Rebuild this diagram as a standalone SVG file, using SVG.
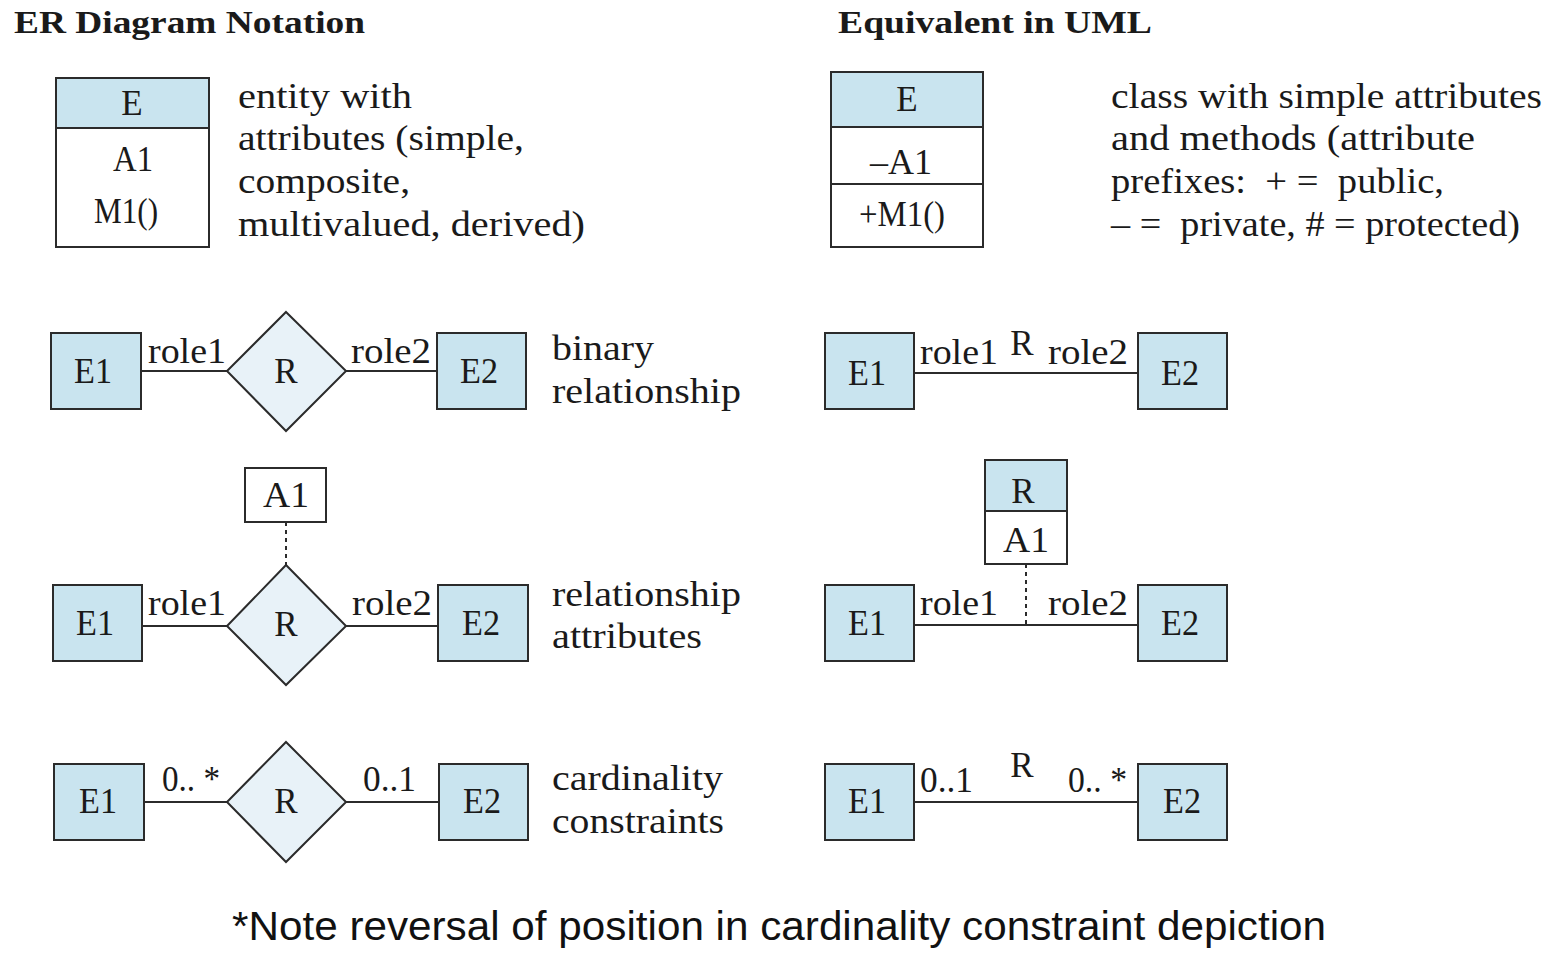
<svg xmlns="http://www.w3.org/2000/svg" width="1555" height="965" viewBox="0 0 1555 965">
<style>
.bg{fill:#ffffff}
.ent{fill:#c9e4ef;stroke:#2b2b2b;stroke-width:2}
.wbox{fill:#ffffff;stroke:#2b2b2b;stroke-width:2}
.rel{fill:#e8f2f8;stroke:#2b2b2b;stroke-width:2}
.ln{stroke:#2b2b2b;stroke-width:2;fill:none}
.dot{stroke:#2b2b2b;stroke-width:2;fill:none;stroke-dasharray:4 4}
text{font-family:"Liberation Serif","DejaVu Serif",serif;fill:#1a1a1a}
.h{font-weight:bold;font-size:32px}
.t{font-size:35px}
.d{font-size:36px}
.c{text-anchor:middle}
.note{font-family:"Liberation Sans",Arial,sans-serif;font-size:41px;fill:#111}
</style>
<rect class="bg" x="0" y="0" width="1555" height="965"/>
<text class="h" x="14" y="33" textLength="351" lengthAdjust="spacingAndGlyphs">ER Diagram Notation</text>
<text class="h" x="838" y="33" textLength="314" lengthAdjust="spacingAndGlyphs">Equivalent in UML</text>

<g id="connectors">
<line class="ln" x1="141" y1="371" x2="227" y2="371"/>
<line class="ln" x1="346" y1="371" x2="437" y2="371"/>
<line class="ln" x1="914" y1="373" x2="1138" y2="373"/>
<line class="dot" x1="286" y1="522" x2="286" y2="565"/>
<line class="ln" x1="142" y1="626" x2="227" y2="626"/>
<line class="ln" x1="346" y1="626" x2="438" y2="626"/>
<line class="ln" x1="914" y1="625" x2="1138" y2="625"/>
<line class="dot" x1="1026" y1="564" x2="1026" y2="625"/>
<line class="ln" x1="144" y1="802" x2="227" y2="802"/>
<line class="ln" x1="346" y1="802" x2="439" y2="802"/>
<line class="ln" x1="914" y1="802" x2="1138" y2="802"/>
</g>

<g id="er-entity">
<rect class="wbox" x="56" y="78" width="153" height="169"/>
<rect class="ent" x="56" y="78" width="153" height="50"/>
<text class="t c" x="132" y="115">E</text>
<text class="t c" x="133" y="171" textLength="40" lengthAdjust="spacingAndGlyphs">A1</text>
<text class="t c" x="126" y="223" textLength="64" lengthAdjust="spacingAndGlyphs">M1()</text>
</g>
<g id="er-entity-desc">
<text class="d" x="238" y="108" textLength="174" lengthAdjust="spacingAndGlyphs">entity with</text>
<text class="d" x="238" y="150" textLength="286" lengthAdjust="spacingAndGlyphs">attributes (simple,</text>
<text class="d" x="238" y="193" textLength="172" lengthAdjust="spacingAndGlyphs">composite,</text>
<text class="d" x="238" y="236" textLength="347" lengthAdjust="spacingAndGlyphs">multivalued, derived)</text>
</g>

<g id="uml-class">
<rect class="wbox" x="831" y="72" width="152" height="175"/>
<rect class="ent" x="831" y="72" width="152" height="55"/>
<line class="ln" x1="831" y1="184" x2="983" y2="184"/>
<text class="t c" x="907" y="111">E</text>
<text class="t c" x="901" y="174" textLength="62" lengthAdjust="spacingAndGlyphs">–A1</text>
<text class="t c" x="902" y="226" textLength="86" lengthAdjust="spacingAndGlyphs">+M1()</text>
</g>
<g id="uml-class-desc">
<text class="d" x="1111" y="108" textLength="431" lengthAdjust="spacingAndGlyphs">class with simple attributes</text>
<text class="d" x="1111" y="150" textLength="364" lengthAdjust="spacingAndGlyphs">and methods (attribute</text>
<text class="d" x="1111" y="193" xml:space="preserve" textLength="333" lengthAdjust="spacingAndGlyphs">prefixes:  + =  public,</text>
<text class="d" x="1111" y="236" xml:space="preserve" textLength="409" lengthAdjust="spacingAndGlyphs">– =  private, # = protected)</text>
</g>

<!-- row 2 ER -->
<g id="er2-e1"><rect class="ent" x="51" y="333" width="90" height="76"/><text class="t c" x="93" y="383" textLength="38" lengthAdjust="spacingAndGlyphs">E1</text></g>
<g id="er2-r"><polygon class="rel" points="286,312 346,371 286,431 227,371"/><text class="t c" x="286" y="383">R</text></g>
<g id="er2-e2"><rect class="ent" x="437" y="333" width="89" height="76"/><text class="t c" x="479" y="383" textLength="38" lengthAdjust="spacingAndGlyphs">E2</text></g>
<text class="t" x="148" y="363" textLength="78" lengthAdjust="spacingAndGlyphs">role1</text>
<text class="t" x="351" y="363" textLength="80" lengthAdjust="spacingAndGlyphs">role2</text>
<text class="d" x="552" y="360" textLength="102" lengthAdjust="spacingAndGlyphs">binary</text>
<text class="d" x="552" y="403" textLength="189" lengthAdjust="spacingAndGlyphs">relationship</text>

<!-- row 2 UML -->
<g id="uml2-e1"><rect class="ent" x="825" y="333" width="89" height="76"/><text class="t c" x="867" y="385" textLength="38" lengthAdjust="spacingAndGlyphs">E1</text></g>
<g id="uml2-e2"><rect class="ent" x="1138" y="333" width="89" height="76"/><text class="t c" x="1180" y="385" textLength="38" lengthAdjust="spacingAndGlyphs">E2</text></g>
<text class="t" x="920" y="364" textLength="78" lengthAdjust="spacingAndGlyphs">role1</text>
<text class="t c" x="1022" y="355">R</text>
<text class="t" x="1048" y="364" textLength="80" lengthAdjust="spacingAndGlyphs">role2</text>

<!-- row 3 ER -->
<g id="er3-a1"><rect class="wbox" x="245" y="468" width="81" height="54"/><text class="t c" x="286" y="507" textLength="46" lengthAdjust="spacingAndGlyphs">A1</text></g>
<g id="er3-e1"><rect class="ent" x="53" y="585" width="89" height="76"/><text class="t c" x="95" y="635" textLength="38" lengthAdjust="spacingAndGlyphs">E1</text></g>
<g id="er3-r"><polygon class="rel" points="286,565 346,626 286,685 227,626"/><text class="t c" x="286" y="636">R</text></g>
<g id="er3-e2"><rect class="ent" x="438" y="585" width="90" height="76"/><text class="t c" x="481" y="635" textLength="38" lengthAdjust="spacingAndGlyphs">E2</text></g>
<text class="t" x="148" y="615" textLength="78" lengthAdjust="spacingAndGlyphs">role1</text>
<text class="t" x="352" y="615" textLength="80" lengthAdjust="spacingAndGlyphs">role2</text>
<text class="d" x="552" y="606" textLength="189" lengthAdjust="spacingAndGlyphs">relationship</text>
<text class="d" x="552" y="648" textLength="150" lengthAdjust="spacingAndGlyphs">attributes</text>

<!-- row 3 UML -->
<g id="uml3-r">
<rect class="wbox" x="985" y="460" width="82" height="104"/>
<rect class="ent" x="985" y="460" width="82" height="51"/>
<text class="t c" x="1023" y="503">R</text>
<text class="t c" x="1026" y="552" textLength="46" lengthAdjust="spacingAndGlyphs">A1</text>
</g>
<g id="uml3-e1"><rect class="ent" x="825" y="585" width="89" height="76"/><text class="t c" x="867" y="635" textLength="38" lengthAdjust="spacingAndGlyphs">E1</text></g>
<g id="uml3-e2"><rect class="ent" x="1138" y="585" width="89" height="76"/><text class="t c" x="1180" y="635" textLength="38" lengthAdjust="spacingAndGlyphs">E2</text></g>
<text class="t" x="920" y="615" textLength="78" lengthAdjust="spacingAndGlyphs">role1</text>
<text class="t" x="1048" y="615" textLength="80" lengthAdjust="spacingAndGlyphs">role2</text>

<!-- row 4 ER -->
<g id="er4-e1"><rect class="ent" x="54" y="764" width="90" height="76"/><text class="t c" x="98" y="813" textLength="38" lengthAdjust="spacingAndGlyphs">E1</text></g>
<g id="er4-r"><polygon class="rel" points="286,742 346,802 286,862 227,802"/><text class="t c" x="286" y="813">R</text></g>
<g id="er4-e2"><rect class="ent" x="439" y="764" width="89" height="76"/><text class="t c" x="482" y="813" textLength="38" lengthAdjust="spacingAndGlyphs">E2</text></g>
<text class="t" x="162" y="791" xml:space="preserve" textLength="58" lengthAdjust="spacingAndGlyphs">0.. *</text>
<text class="t" x="363" y="791" textLength="53" lengthAdjust="spacingAndGlyphs">0..1</text>
<text class="d" x="552" y="790" textLength="171" lengthAdjust="spacingAndGlyphs">cardinality</text>
<text class="d" x="552" y="833" textLength="172" lengthAdjust="spacingAndGlyphs">constraints</text>

<!-- row 4 UML -->
<g id="uml4-e1"><rect class="ent" x="825" y="764" width="89" height="76"/><text class="t c" x="867" y="813" textLength="38" lengthAdjust="spacingAndGlyphs">E1</text></g>
<g id="uml4-e2"><rect class="ent" x="1138" y="764" width="89" height="76"/><text class="t c" x="1182" y="813" textLength="38" lengthAdjust="spacingAndGlyphs">E2</text></g>
<text class="t" x="920" y="792" textLength="53" lengthAdjust="spacingAndGlyphs">0..1</text>
<text class="t c" x="1022" y="777">R</text>
<text class="t" x="1068" y="792" xml:space="preserve" textLength="59" lengthAdjust="spacingAndGlyphs">0.. *</text>

<text class="note" x="232" y="940" textLength="1094" lengthAdjust="spacingAndGlyphs">*Note reversal of position in cardinality constraint depiction</text>
</svg>
